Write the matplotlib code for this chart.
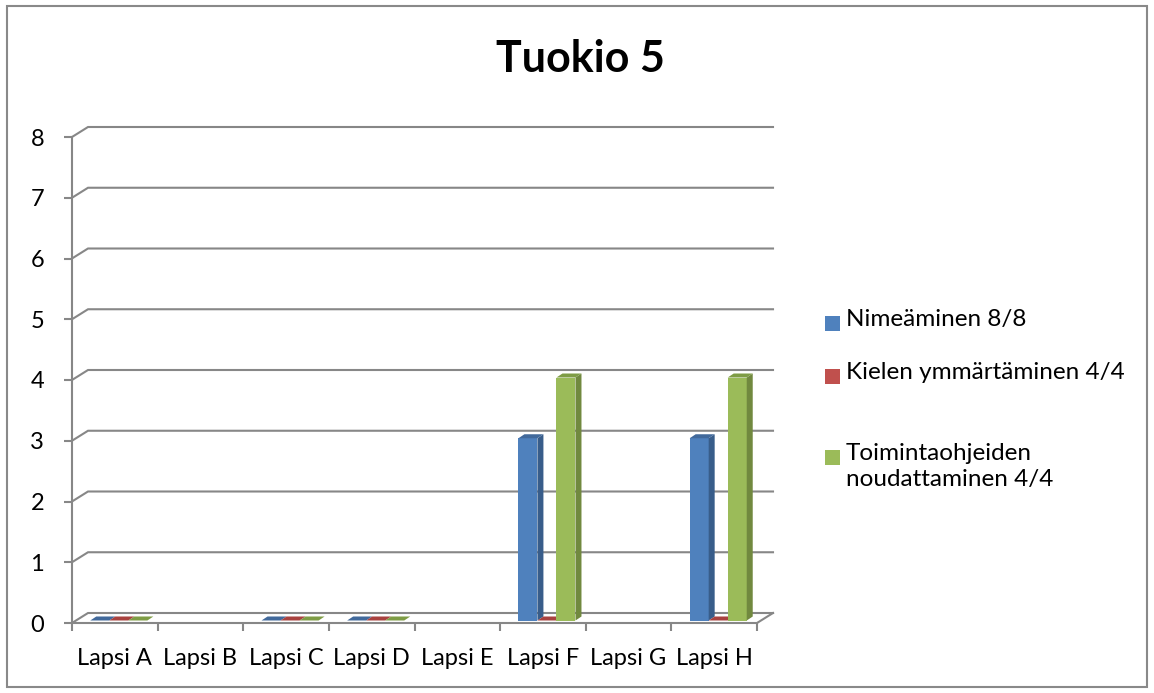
import numpy as np
import matplotlib
matplotlib.use("Agg")
import matplotlib.pyplot as plt
from matplotlib.patches import Polygon, Rectangle

# data (nan = no bar drawn)
categories = ["Lapsi A", "Lapsi B", "Lapsi C", "Lapsi D", "Lapsi E", "Lapsi F", "Lapsi G", "Lapsi H"]
nimeaminen = [0, np.nan, 0, 0, np.nan, 3, np.nan, 3]
kielen = [0, np.nan, 0, 0, np.nan, 0, np.nan, 0]
toiminta = [0, np.nan, 0, 0, np.nan, 4, np.nan, 4]
series_names = ["Nimeäminen 8/8", "Kielen ymmärtäminen 4/4", "Toimintaohjeiden\nnoudattaminen 4/4"]
yticks = [0, 1, 2, 3, 4, 5, 6, 7, 8]

# colours: front, side, top
colors = [("#4F81BD", "#385D8A", "#41699B"),
          ("#C0504D", "#8C3836", "#A8423F"),
          ("#9BBB59", "#71893F", "#7E9C45")]
grid_c = "#878787"

W, H = 1154, 693
plt.rcParams['font.family'] = ['Lato', 'DejaVu Sans']
fig = plt.figure(figsize=(W / 100, H / 100), dpi=100)

# front plane of the plot in pixels
x0p, x1p, y0p, y1p = 72, 757, 623, 137
ax = fig.add_axes([x0p / W, (H - y0p) / H, (x1p - x0p) / W, (y0p - y1p) / H])
n = len(categories)
ax.set_xlim(0, n)
ax.set_ylim(0, 8)
ax.set_facecolor("none")

# pixel -> data conversion for the fake 3d depth
sx = n / (x1p - x0p)
sy = 8 / (y0p - y1p)
dx, dy = 16 * sx, 10 * sy  # back wall offset

# back wall gridlines + diagonals to the front axis
for y in yticks:
    ax.plot([0, dx, n + dx], [y, y + dy, y + dy], color=grid_c, lw=1.5,
            clip_on=False, zorder=1, solid_joinstyle="miter")
# floor right edge
ax.plot([n, n + dx], [0, dy], color=grid_c, lw=1.5, clip_on=False, zorder=1)

# bars
gap = 1.5
w = 1 / (3 + gap)
fdx, fdy = 4 * sx, 2.5 * sy   # bar front depth
bdx, bdy = 6 * sx, 4 * sy     # bar thickness
for i, vals in enumerate([nimeaminen, kielen, toiminta]):
    front, side, top = colors[i]
    for c, v in enumerate(vals):
        if np.isnan(v):
            continue
        xl = c + gap / 2 * w + i * w + fdx
        xr = xl + w
        ax.bar(xl, v, width=w, bottom=fdy, align="edge", color=front,
               edgecolor="none", zorder=3 + i, clip_on=False)
        yt = fdy + v
        ax.add_patch(Polygon([[xr, fdy], [xr + bdx, fdy + bdy], [xr + bdx, yt + bdy], [xr, yt]],
                             closed=True, facecolor=side, edgecolor="none",
                             zorder=3 + i, clip_on=False))
        ax.add_patch(Polygon([[xl, yt], [xr, yt], [xr + bdx, yt + bdy], [xl + bdx, yt + bdy]],
                             closed=True, facecolor=top, edgecolor="none",
                             zorder=3 + i, clip_on=False))

# axes styling
for s in ["top", "right"]:
    ax.spines[s].set_visible(False)
for s in ["left", "bottom"]:
    ax.spines[s].set_color(grid_c)
    ax.spines[s].set_linewidth(1.5)
ax.set_yticks(yticks)
ax.tick_params(axis="y", length=6, width=1.5, color=grid_c, pad=14, labelsize=17)
ax.set_xticks(np.arange(n) + 0.5)
ax.set_xticklabels(categories)
ax.set_xticks(np.arange(n + 1), minor=True)
ax.tick_params(axis="x", which="major", length=0, pad=18, labelsize=17)
ax.tick_params(axis="x", which="minor", length=6, width=1.5, color=grid_c)

# title
fig.text(580 / W, 1 - 59 / H, "Tuokio 5", ha="center", va="center",
         fontsize=31, fontweight="bold")

# legend drawn by hand
leg_y = [323, 376, 457]
for i, name in enumerate(series_names):
    yc = leg_y[i]
    fig.patches.append(Rectangle((825 / W, 1 - (yc + 7.5) / H), 15 / W, 15 / H,
                                 transform=fig.transFigure, facecolor=colors[i][0],
                                 edgecolor="none"))
    fig.text(846 / W, 1 - (yc - 14) / H, name, ha="left", va="top",
             fontsize=17.5, linespacing=1.3)

# chart border
fig.patches.append(Rectangle((7 / W, 1 - 687 / H), 1140 / W, 681 / H,
                             transform=fig.transFigure, facecolor="none",
                             edgecolor="#898989", lw=1.5))

fig.savefig("out.png", dpi=100)
